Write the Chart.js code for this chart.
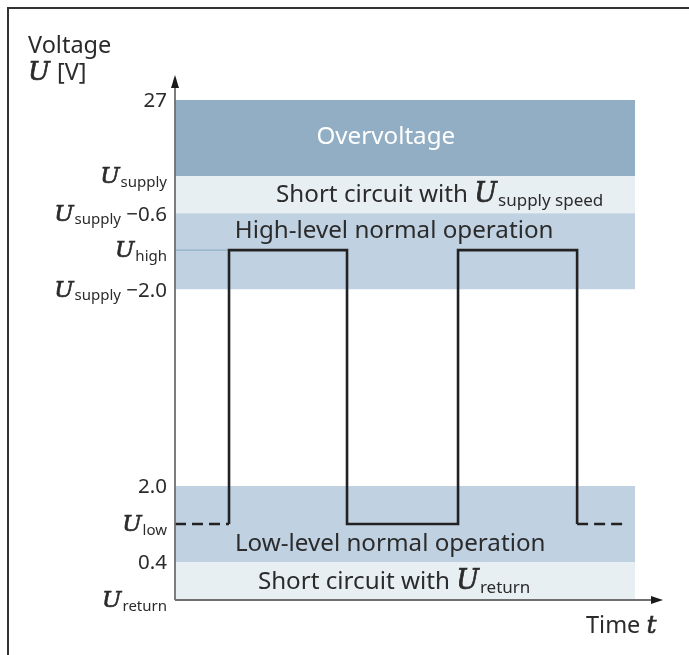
<!DOCTYPE html>
<html><head><meta charset="utf-8">
<script src="https://cdn.jsdelivr.net/npm/chart.js@4.4.1/dist/chart.umd.min.js"></script>
<style>html,body{margin:0;padding:0;background:#fff;overflow:hidden}#wrap{width:689px;height:655px;position:relative}</style>
</head><body><div id="wrap"><canvas id="c"></canvas></div>
<script>
// ---- DATA (schematic voltage levels, not to scale) ----
const levelLabels = ['U_{return}', '0.4', 'U_{low}', '2.0', 'U_{supply} −2.0', 'U_{high}', 'U_{supply} −0.6', 'U_{supply}', '27'];
const levelPos    = [0, 1, 2, 3, 8.18, 9.21, 10.18, 11.16, 13.16];
const yAxisTop    = 13.74;
const timeMax     = 100;

const bandNames  = ['Short circuit with U_{return}', 'Low-level normal operation', 'High-level normal operation', 'Short circuit with U_{supply speed}', 'Overvoltage'];
const bandLow    = [0, 1, 8.18, 10.18, 11.16];
const bandHigh   = [1, 3, 10.18, 11.16, 13.16];
const bandEnd    = 94.3;

const edgeTimes  = [11.07, 35.25, 58.0, 82.4];   // rising, falling, rising, falling
const uLow = 2, uHigh = 9.21;
const dashEnd = 92.8;

// ---- STYLES ----
const bandColors = ['#e8eff3', '#c0d2e2', '#c0d2e2', '#e8eff3', '#91aec4'];
const bandTextColors = ['#2b2b2b', '#2b2b2b', '#2b2b2b', '#2b2b2b', '#ffffff'];
const bandLabelX = [44.9, 44.1, 44.9, 20.7, 43.2];   // x anchor in time units
const bandLabelAlign = ['center','center','center','left','center'];
const bandLabelY = [0.53, 1.53, 9.76, 10.71, 12.24];
const TXT = '#2b2b2b';
const SANS = '"Noto Sans", "Open Sans", sans-serif';
const SERIF = '"DejaVu Serif", "Liberation Serif", serif';

// signal points from the edges
const sig = [];
edgeTimes.forEach((t, i) => {
  const rising = i % 2 === 0;
  sig.push({x: t, y: rising ? uLow : uHigh});
  sig.push({x: t, y: rising ? uHigh : uLow});
});

const datasets = [];
datasets.push({data: sig, borderColor: '#222', borderWidth: 2.6, pointRadius: 0, fill: false, tension: 0, borderJoinStyle: 'miter', borderCapStyle: 'butt'});
datasets.push({data: [{x: 0, y: uLow}, {x: edgeTimes[0], y: uLow}], borderColor: '#222', borderWidth: 2.6, borderDash: [11, 6], pointRadius: 0, fill: false});
datasets.push({data: [{x: edgeTimes[3], y: uLow}, {x: dashEnd, y: uLow}], borderColor: '#222', borderWidth: 2.6, borderDash: [11, 6], borderDashOffset: -17, pointRadius: 0, fill: false});
datasets.push({data: [{x: 0, y: uHigh}, {x: edgeTimes[0], y: uHigh}], borderColor: '#8fb0c6', borderWidth: 1.2, pointRadius: 0, fill: false});
bandNames.forEach((n, i) => {
  datasets.push({data: [{x: 0, y: bandHigh[i]}, {x: bandEnd, y: bandHigh[i]}], borderWidth: 0, borderColor: 'rgba(0,0,0,0)',
    backgroundColor: bandColors[i], pointRadius: 0, fill: {value: bandLow[i]}});
});

// rich text: U_{sub} -> italic U + subscript
function parseRich(s) {
  const out = []; const re = /U_\{([^}]*)\}/g; let last = 0, m;
  while ((m = re.exec(s))) {
    if (m.index > last) out.push({t: s.slice(last, m.index), k: 'n'});
    out.push({t: 'U', k: 'i'});
    if (m[1]) out.push({t: m[1], k: 's'});
    last = re.lastIndex;
  }
  if (last < s.length) out.push({t: s.slice(last), k: 'n'});
  return out;
}
function fontFor(k, size) {
  if (k === 'i') return `italic ${Math.round(size * 1.1)}px ${SERIF}`;
  if (k === 's') return `${Math.round(size * 0.72)}px ${SANS}`;
  return `${size}px ${SANS}`;
}
function drawRich(ctx, s, x, cy, align, size, color) {
  const segs = parseRich(s);
  let w = 0;
  segs.forEach(g => { ctx.font = fontFor(g.k, size); g.w = ctx.measureText(g.t).width + (g.k === 'i' ? 1 : 0); w += g.w; });
  let sx = align === 'right' ? x - w : align === 'center' ? x - w / 2 : x;
  const base = cy + size * 0.36;
  ctx.fillStyle = color; ctx.strokeStyle = color; ctx.textAlign = 'left'; ctx.textBaseline = 'alphabetic';
  segs.forEach(g => {
    ctx.font = fontFor(g.k, size);
    const yy = g.k === 's' ? base + size * 0.18 : base;
    ctx.fillText(g.t, sx, yy);
    if (g.k === 'i') { ctx.lineWidth = 0.7; ctx.strokeText(g.t, sx, yy); }
    sx += g.w;
  });
}

const overlay = {
  id: 'overlay',
  afterDatasetsDraw(chart) {
    const ctx = chart.ctx, xs = chart.scales.x, ys = chart.scales.y;
    const x0 = xs.getPixelForValue(0), y0 = ys.getPixelForValue(0);
    const yTop = ys.getPixelForValue(yAxisTop), xEnd = xs.getPixelForValue(timeMax);
    ctx.save();
    // band labels
    bandNames.forEach((n, i) => drawRich(ctx, n, xs.getPixelForValue(bandLabelX[i]), ys.getPixelForValue(bandLabelY[i]), bandLabelAlign[i], 24.2, bandTextColors[i]));
    // axes
    ctx.strokeStyle = '#6f6f6f'; ctx.lineWidth = 1.8;
    ctx.beginPath(); ctx.moveTo(x0, y0); ctx.lineTo(x0, yTop + 8); ctx.stroke();
    ctx.beginPath(); ctx.moveTo(x0, y0); ctx.lineTo(xEnd - 8, y0); ctx.stroke();
    ctx.fillStyle = '#1a1a1a';
    ctx.beginPath(); ctx.moveTo(x0, yTop - 3); ctx.lineTo(x0 - 4, yTop + 10); ctx.lineTo(x0 + 4, yTop + 10); ctx.closePath(); ctx.fill();
    ctx.beginPath(); ctx.moveTo(xEnd, y0); ctx.lineTo(xEnd - 12, y0 - 4); ctx.lineTo(xEnd - 12, y0 + 4); ctx.closePath(); ctx.fill();
    // y tick labels
    levelLabels.forEach((l, i) => drawRich(ctx, l, x0 - 8, ys.getPixelForValue(levelPos[i]), 'right', 20.5, TXT));
    // axis titles
    ctx.fillStyle = TXT; ctx.textAlign = 'left'; ctx.textBaseline = 'alphabetic';
    ctx.font = `23.5px ${SANS}`; ctx.fillText('Voltage', 28, 53);
    drawRich(ctx, 'U_{} [V]', 28, 72, 'left', 23.5, TXT);
    ctx.fillStyle = TXT;
    ctx.font = `23.5px ${SANS}`; const tw = ctx.measureText('Time ').width;
    ctx.fillText('Time ', 586, 633);
    ctx.font = `italic 25px ${SERIF}`; ctx.fillText('t', 586 + tw, 633);
    ctx.strokeStyle = TXT; ctx.lineWidth = 0.6; ctx.strokeText('t', 586 + tw, 633);
    // frame
    ctx.strokeStyle = '#333'; ctx.lineWidth = 2;
    ctx.beginPath(); ctx.moveTo(8, 700); ctx.lineTo(8, 8); ctx.lineTo(700, 8); ctx.stroke();
    ctx.restore();
  }
};

new Chart(document.getElementById('c'), {
  type: 'line',
  data: {datasets},
  options: {
    responsive: true, maintainAspectRatio: false, animation: false,
    layout: {padding: {left: 175, right: 26, top: 78, bottom: 55}},
    plugins: {legend: {display: false}, tooltip: {enabled: false}},
    scales: {
      x: {type: 'linear', min: 0, max: timeMax, display: false},
      y: {type: 'linear', min: 0, max: yAxisTop, display: false}
    }
  },
  plugins: [overlay]
});
</script></body></html>
